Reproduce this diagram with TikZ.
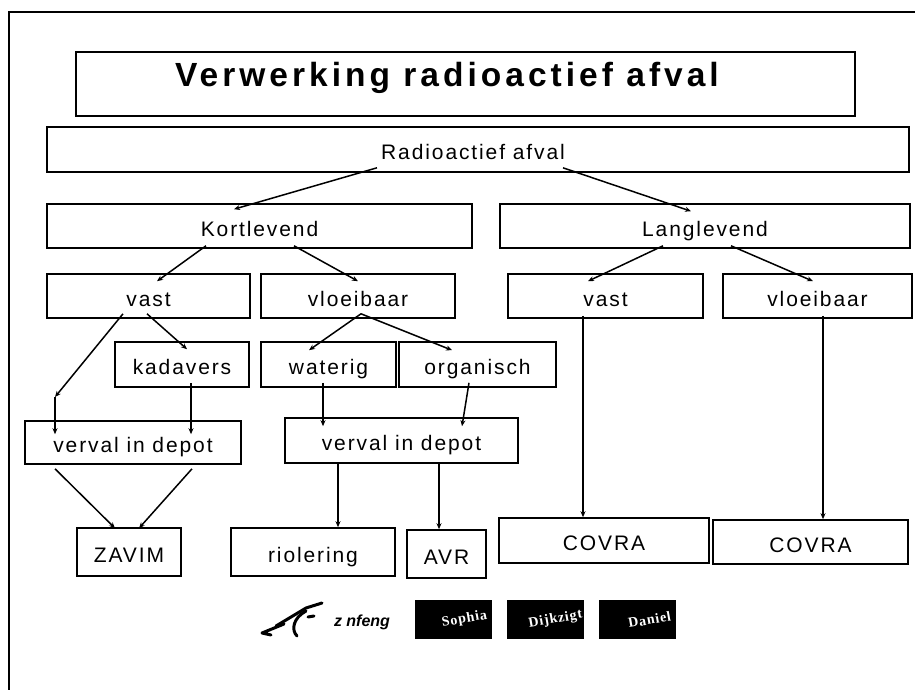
\documentclass[tikz,border=0pt]{standalone}
\usepackage{fontspec}
\setmainfont{Liberation Sans}
\newfontfamily\spacedfam[LetterSpace=9]{Liberation Sans}
\newfontfamily\titlefam[LetterSpace=12]{Liberation Sans}
\newfontfamily\logofam[LetterSpace=6]{Liberation Serif}
\usepackage{tikz}
\usetikzlibrary{calc}
\usetikzlibrary{positioning}
\usetikzlibrary{arrows.meta}
\newcommand{\boxfont}{\spacedfam\fontsize{21}{25}\selectfont}
\newcommand{\titlefont}{\titlefam\bfseries\fontsize{33.5}{37}\selectfont}

\begin{document}
\begin{tikzpicture}[x=1pt, y=-1pt,
    box/.style={draw, line width=1.6pt, inner sep=0pt, minimum height=45pt,
        text height=24pt, text depth=4pt, font=\boxfont},
    arr/.style={line width=1.5pt, -{Stealth[length=6pt,width=5pt]}},
    logo/.style={fill=black, text=white, inner sep=0pt, minimum width=77pt,
        minimum height=39pt, font=\logofam\bfseries\fontsize{14}{14}\selectfont},
    sig/.style={line width=3pt, line cap=round, line join=round}]

    \useasboundingbox (0,0) rectangle (915,690);

    % frame round the slide
    \draw[line width=1.8pt] (9,690) -- (9,12) -- (915,12);

    % the boxes, row by row
    \begin{scope}
        \node[box, line width=1.8pt, minimum width=779pt, minimum height=64pt,
            text height=20pt, text depth=14pt, font=\titlefont]
            (title) at (465.5,84) {Verwerking radioactief afval\hspace*{37pt}};

        \node[box, minimum width=862pt] (afval) at (478,149.5) {Radioactief afval\hspace*{10pt}};

        \node[box, minimum width=425pt, minimum height=44pt] (kort) at (259.5,226) {Kortlevend};
        \node[box, minimum width=410pt, minimum height=44pt] (lang) at (705,226) {Langlevend};

        \node[box, minimum width=203pt, minimum height=44pt] (kvast) at (148.5,296) {vast};
        \node[box, minimum width=194pt, minimum height=44pt] (kvloei) at (358,296) {vloeibaar};
        \node[box, minimum width=195pt, minimum height=44pt] (lvast) at (605.5,296) {vast};
        \node[box, minimum width=189pt, minimum height=44pt] (lvloei) at (817.5,296) {vloeibaar};

        \node[box, minimum width=134pt] (kad) at (182,364.5) {kadavers};
        \node[box, minimum width=135pt] (wat) at (328.5,364.5) {waterig};
        \node[box, minimum width=157pt] (org) at (477.5,364.5) {organisch};

        \node[box, minimum width=216pt, minimum height=43pt] (dep1) at (133,442.5) {verval in depot};
        \node[box, minimum width=233pt] (dep2) at (401.5,440.5) {verval in depot};

        \node[box, minimum width=104pt, minimum height=48pt] (zavim) at (129,552) {ZAVIM};
        \node[box, minimum width=164pt, minimum height=48pt] (riool) at (313,552) {riolering};
        \node[box, minimum width=79pt, minimum height=48pt] (avr) at (446.5,554) {AVR};
        \node[box, minimum width=210pt] (covra1) at (604,540.5) {COVRA};
        \node[box, minimum width=195pt, minimum height=44pt] (covra2) at (810.5,542) {COVRA};

        \coordinate (bend) at (55,397);
    \end{scope}

    \begin{scope}
        \draw[arr] ([xshift=-101pt,yshift=5pt]afval.south) -- ([xshift=-25.5pt,yshift=-6pt]kort.north);
        \draw[arr] ([xshift=85pt,yshift=5pt]afval.south) -- ([xshift=-14pt,yshift=-8pt]lang.north);

        \draw[arr] ([xshift=-53.5pt,yshift=3pt]kort.south) -- ([xshift=8.5pt,yshift=-8pt]kvast.north);
        \draw[arr] ([xshift=34.5pt,yshift=3pt]kort.south) -- ([yshift=-8pt]kvloei.north);
        \draw[arr] ([xshift=-42pt,yshift=3pt]lang.south) -- ([xshift=-17.5pt,yshift=-8pt]lvast.north);
        \draw[arr] ([xshift=26pt,yshift=3pt]lang.south) -- ([xshift=-4.5pt,yshift=-8pt]lvloei.north);

        \draw[arr] ([xshift=-25.5pt,yshift=5pt]kvast.south) -- (bend);
        \draw[arr] (bend) -- ([xshift=-78pt,yshift=-14pt]dep1.north);
        \draw[arr] ([xshift=-1.5pt,yshift=5pt]kvast.south) -- ([xshift=5pt,yshift=-8pt]kad.north);
        \draw[arr] ([xshift=9pt,yshift=5pt]kad.south) -- ([xshift=58pt,yshift=-14pt]dep1.north);

        \draw[arr] ([xshift=3pt,yshift=5pt]kvloei.south) -- ([xshift=-19.5pt,yshift=-9pt]wat.north);
        \draw[arr] ([xshift=3pt,yshift=5pt]kvloei.south) -- ([xshift=-25.5pt,yshift=-9pt]org.north);
        \draw[arr] ([xshift=-5.5pt,yshift=5pt]wat.south) -- ([xshift=-78.5pt,yshift=-9pt]dep2.north);
        \draw[arr] ([xshift=-8.5pt,yshift=5pt]org.south) -- ([xshift=60.5pt,yshift=-9pt]dep2.north);

        \draw[arr] ([xshift=-78pt,yshift=-4pt]dep1.south) -- ([xshift=-14pt,yshift=-1pt]zavim.north);
        \draw[arr] ([xshift=59pt,yshift=-4pt]dep1.south) -- ([xshift=10pt,yshift=-1pt]zavim.north);
        \draw[arr] ([xshift=-63.5pt]dep2.south) -- ([xshift=25pt]riool.north);
        \draw[arr] ([xshift=37.5pt]dep2.south) -- ([xshift=-7.5pt]avr.north);

        \draw[arr] ([xshift=-22.5pt,yshift=3pt]lvast.south) -- ([xshift=-21pt]covra1.north);
        \draw[arr] ([xshift=5.5pt,yshift=3pt]lvloei.south) -- ([xshift=12.5pt]covra2.north);
    \end{scope}

    % logos at the foot of the slide
    \draw[sig] (284,624) -- (262,633) -- (271,635);
    \draw[sig] (276,626) -- (306,608) -- (322,603);
    \draw[sig] (306,611) .. controls (293,618) and (291,630) .. (297,636);
    \draw[sig] (308,617) -- (314,616);
    \node[inner sep=0pt, font=\bfseries\itshape\fontsize{16}{16}\selectfont]
        (sigtext) at (362,622) {z nfeng};

    \node[logo] (sophia) at (453.5,619.5) {\hspace*{22pt}\rotatebox{10}{Sophia}};
    \node[logo] (dijkzigt) at (545.5,619.5) {\hspace*{20pt}\rotatebox{10}{Dijkzigt}};
    \node[logo] (daniel) at (637.5,619.5) {\hspace*{24pt}\rotatebox{10}{Daniel}};

\end{tikzpicture}
\end{document}
